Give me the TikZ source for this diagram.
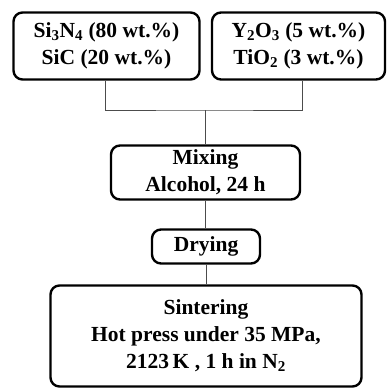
\documentclass[tikz,border=0pt]{standalone}
\usepackage{fontspec}
\setmainfont{Liberation Serif}
\usetikzlibrary{calc}

\tikzset{
  stepbox/.style={draw, line width=2.4pt, rounded corners=9pt, align=center,
    font=\bfseries\fontsize{21.5}{27}\selectfont, inner sep=0pt},
  link/.style={draw=black!70, line width=0.9pt}
}

\begin{document}
\begin{tikzpicture}[x=1pt, y=-1pt]

\useasboundingbox (0, 0) rectangle (387, 388);

\node[stepbox, minimum width=186pt, minimum height=67pt] (nitride) at (106.5, 46) {Si\textsubscript{3}N\textsubscript{4} (80 wt.\%)\\SiC (20 wt.\%)};
\node[stepbox, minimum width=173pt, minimum height=67pt] (oxide) at (298.5, 46) {Y\textsubscript{2}O\textsubscript{3} (5 wt.\%)\\TiO\textsubscript{2} (3 wt.\%)};

\node[stepbox, minimum width=189pt, minimum height=54pt] (mixing) at (205.5, 172.5) {Mixing\\Alcohol, 24 h};
\node[stepbox, minimum width=108pt, minimum height=34pt] (drying) at (206, 246.5) {Drying};
\node[stepbox, minimum width=311pt, minimum height=101pt] (sinter) at (206, 336) {Sintering\\Hot press under 35 MPa,\\2123\,K , 1 h in N\textsubscript{2}};

\coordinate (join) at (205, 110);

\draw[link] ([xshift=-1.5pt]nitride.south) |- (join) -| ([xshift=3.5pt]oxide.south);
\draw[link] (join) -- (join |- mixing.north);
\draw[link] (mixing.south) -- (mixing.south |- drying.north);
\draw[link] (drying.south) -- (drying.south |- sinter.north);

\end{tikzpicture}
\end{document}
